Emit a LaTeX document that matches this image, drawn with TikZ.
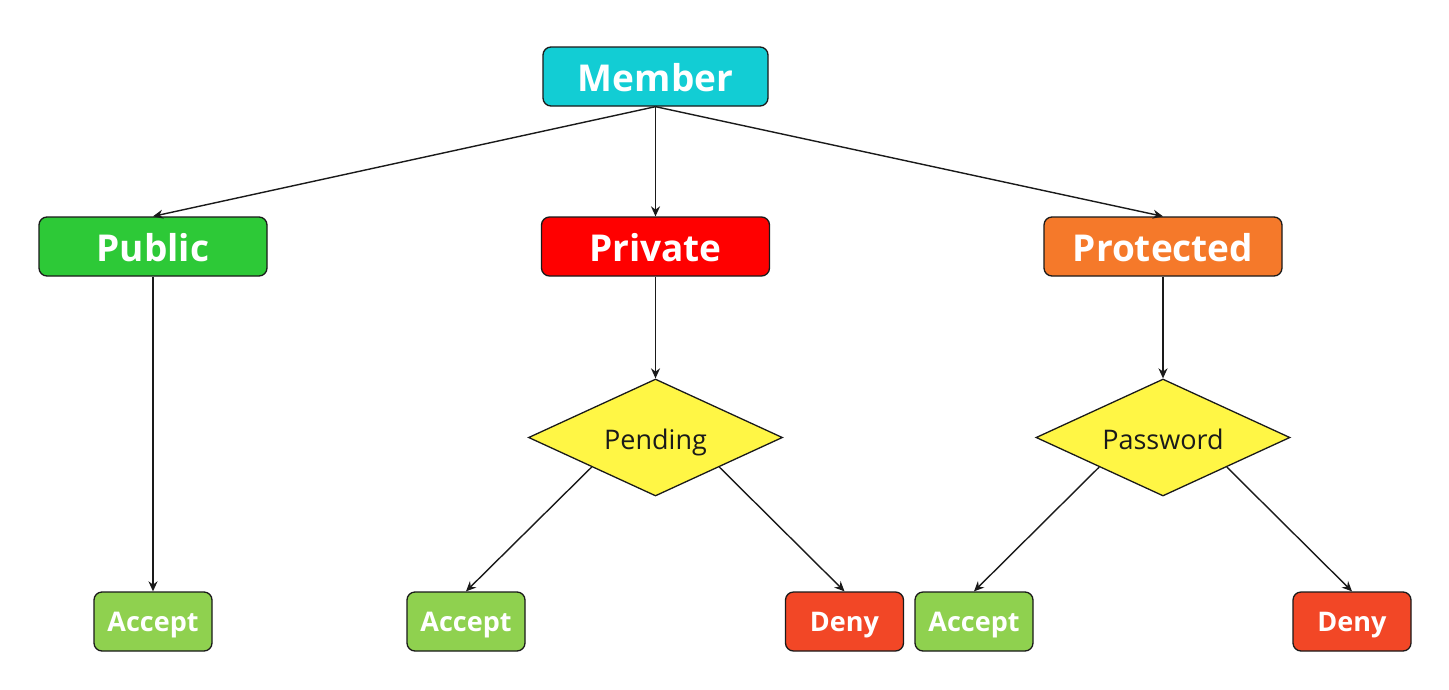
\documentclass[tikz,border=0pt]{standalone}
\usepackage{fontspec}
\setmainfont{Open Sans}
\usetikzlibrary{shapes.geometric,arrows.meta,calc}
\definecolor{cMember}{HTML}{12CDD4}
\definecolor{cPublic}{HTML}{2DC937}
\definecolor{cPrivate}{HTML}{FF0000}
\definecolor{cProtected}{HTML}{F5792A}
\definecolor{cDiamond}{HTML}{FFF645}
\definecolor{cAccept}{HTML}{8FD14F}
\definecolor{cDeny}{HTML}{F24726}
\definecolor{cLine}{HTML}{1A1A1A}
\tikzset{
  bigbox/.style={draw=cLine, line width=1.3pt, rounded corners=8pt, minimum height=59pt, inner sep=0pt,
    text=white, font=\fontsize{37}{40}\selectfont\bfseries, text height=30pt, text depth=0pt},
  smallbox/.style={draw=cLine, line width=1.3pt, rounded corners=8pt, minimum height=59pt, minimum width=118pt, inner sep=0pt,
    text=white, font=\fontsize{27}{30}\selectfont\bfseries, text height=19.3pt, text depth=0pt},
  decision/.style={diamond, aspect=2.17, draw=cLine, line width=1.3pt, fill=cDiamond, minimum width=254pt, minimum height=117pt,
    inner sep=0pt, text=cLine, font=\fontsize{27}{30}\selectfont, text height=23pt, text depth=0pt},
  conn/.style={draw=cLine, line width=1.4pt, -{Stealth[length=10pt,width=9pt]}}
}
\begin{document}
\begin{tikzpicture}[x=1pt,y=-1pt]
\useasboundingbox[fill=white] (0,0) rectangle (1449,689);
\node[bigbox, fill=cMember, minimum width=225pt] (member) at (655.5,76.5) {Member};
\node[bigbox, fill=cPublic, minimum width=228pt] (public) at (153,246.5) {Public};
\node[bigbox, fill=cPrivate, minimum width=228pt] (private) at (655.5,246.5) {Private};
\node[bigbox, fill=cProtected, minimum width=238pt] (protected) at (1163,246.5) {Protected};
\node[decision] (pending) at (655.5,437.5) {Pending};
\node[decision] (password) at (1163,437.5) {Password};
\node[smallbox, fill=cAccept] (acc1) at (153,621.5) {Accept};
\node[smallbox, fill=cAccept] (acc2) at (466,621.5) {Accept};
\node[smallbox, fill=cDeny] (deny1) at (844.5,621.5) {Deny};
\node[smallbox, fill=cAccept] (acc3) at (974,621.5) {Accept};
\node[smallbox, fill=cDeny] (deny2) at (1352,621.5) {Deny};
\coordinate (pl) at ($(pending.west)!0.5!(pending.south)$);
\coordinate (pr) at ($(pending.east)!0.5!(pending.south)$);
\coordinate (wl) at ($(password.west)!0.5!(password.south)$);
\coordinate (wr) at ($(password.east)!0.5!(password.south)$);
\draw[conn] (member.south) -- (public.north);
\draw[conn] (member.south) -- (private.north);
\draw[conn] (member.south) -- (protected.north);
\draw[conn] (public.south) -- (acc1.north);
\draw[conn] (private.south) -- (pending.north);
\draw[conn] (protected.south) -- (password.north);
\draw[conn] (pl) -- (acc2.north);
\draw[conn] (pr) -- (deny1.north);
\draw[conn] (wl) -- (acc3.north);
\draw[conn] (wr) -- (deny2.north);
\end{tikzpicture}
\end{document}
